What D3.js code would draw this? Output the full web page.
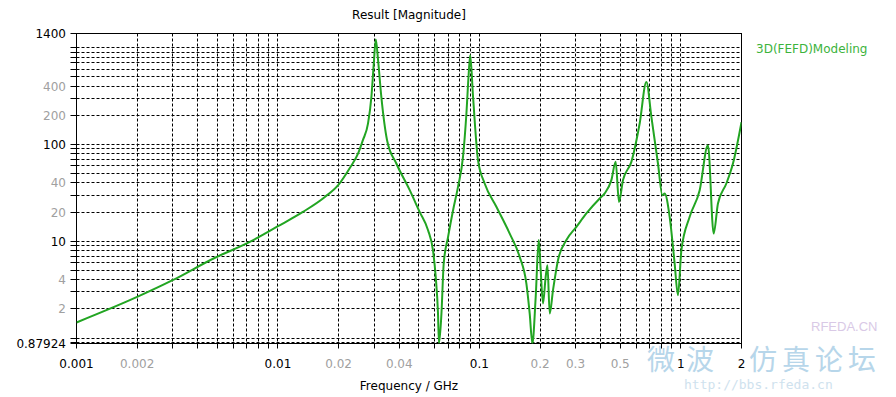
<!DOCTYPE html>
<html lang="en">
<head>
    <meta charset="utf-8">
    <title>Result [Magnitude]</title>
    <style>
        body {
            margin: 0;
            background: #fff;
            font-family: "DejaVu Sans", Tahoma, sans-serif;
        }
        svg text {
            font-size: 12px;
        }
    </style>
</head>
<body>
    <div id="chart"></div>

    <script src="https://cdn.jsdelivr.net/npm/d3@7"></script>
    <script>
        // curve (frequency in GHz, magnitude)
        const freq = [0.001, 0.002, 0.003, 0.0049, 0.007, 0.01, 0.0133, 0.0171, 0.0199, 0.0227,
            0.025, 0.0264, 0.028, 0.0291, 0.0299, 0.0306, 0.0314, 0.0326, 0.0348, 0.0387,
            0.0451, 0.0505, 0.0556, 0.0588, 0.0607, 0.0623, 0.063, 0.0648, 0.0665, 0.0699,
            0.074, 0.0783, 0.0829, 0.0862, 0.0885, 0.09, 0.093, 0.0984, 0.1062, 0.1214,
            0.1414, 0.1585, 0.1711, 0.1777, 0.1832, 0.1903, 0.197, 0.2015, 0.2068, 0.2133,
            0.2176, 0.2234, 0.2319, 0.2455, 0.2703, 0.303, 0.3396, 0.3954, 0.4187, 0.4519,
            0.4747, 0.493, 0.5161, 0.568, 0.6245, 0.6742, 0.714, 0.7698, 0.8094, 0.831,
            0.8799, 0.9315, 0.9674, 1.006, 1.106, 1.24, 1.363, 1.455, 1.528, 1.682,
            1.814, 2.0];
        const magnitude = [1.45, 2.66, 3.96, 6.8, 9.49, 14.3, 20.1, 28.7, 38, 56.9,
            80.7, 110.7, 164.8, 310, 686, 1215, 743, 310, 110.7, 63.6,
            33.7, 20.1, 13, 8.09, 4.29, 1.79, 0.87924, 1.79, 5.89, 11.1,
            20.9, 36.5, 74.4, 209, 541, 836, 310, 68.8, 39.5, 22.7,
            12, 6.9, 3.66, 1.79, 0.87924, 2.66, 10.3, 5.03, 2.28, 4.29,
            5.66, 1.79, 3.12, 6.38, 10.3, 14.1, 19.4, 27.7, 31.2, 42.8,
            66.1, 25.5, 42.8, 66.1, 164.8, 443, 193, 63.6, 29.9, 31.2,
            17.9, 5.89, 2.77, 8.09, 17.9, 33.7, 98.3, 12, 24.6, 39.5,
            63.6, 170];

        // axis labels; the "major" ones are drawn black, the rest grey
        const xTicks = [0.001, 0.002, 0.01, 0.02, 0.04, 0.1, 0.2, 0.3, 0.5, 1, 2];
        const xMajor = [0.001, 0.01, 0.1, 1, 2];
        const yTicks = [0.87924, 2, 4, 10, 20, 40, 100, 200, 400, 1400];
        const yMajor = [0.87924, 10, 100, 1400];

        const xDomain = [0.001, 2];
        const yDomain = [0.87924, 1400];

        const seriesName = "3D(FEFD)Modeling";
        const watermarkChars = ["微", "波", "仿", "真", "论", "坛"];

        const width = 896, height = 397;
        const plot = { left: 76.5, right: 741.5, top: 33.5, bottom: 343.5 };

        const svg = d3.select("#chart")
            .append("svg")
            .attr("width", width)
            .attr("height", height);

        const x = d3.scaleLog().domain(xDomain).range([plot.left, plot.right]);
        const y = d3.scaleLog().domain(yDomain).range([plot.bottom, plot.top]);

        // every 1..9 x 10^n inside the domain gets a dashed grid line
        function gridValues(domain) {
            const vals = [];
            for (let e = -4; e <= 4; e++) {
                for (let m = 1; m <= 9; m++) {
                    const v = +(m * Math.pow(10, e)).toPrecision(6);
                    if (v > domain[0] && v < domain[1]) vals.push(v);
                }
            }
            return vals;
        }
        const xGrid = gridValues(xDomain);
        const yGrid = gridValues(yDomain);
        const px = v => Math.round(x(v) - 0.5) + 0.5;
        const py = v => Math.round(y(v) - 0.5) + 0.5;

        // watermark (faint, behind the plot)
        const wm = svg.append("g").attr("class", "watermark");
        wm.selectAll(".wmchar")
            .data(watermarkChars)
            .join("text")
            .attr("class", "wmchar")
            .attr("x", (d, i) => i < 2 ? 647 + i * 39 : 749 + (i - 2) * 33)
            .attr("y", 370)
            .attr("fill", "#b7d6ea")
            .style("font-family", "'Noto Sans CJK SC', sans-serif")
            .style("font-size", "28px")
            .text(d => d);
        wm.append("text")
            .attr("x", 684).attr("y", 389)
            .attr("fill", "#cfe2ee")
            .style("font-family", "'DejaVu Sans Mono', monospace")
            .style("font-size", "13px")
            .text("http://bbs.rfeda.cn");
        wm.append("text")
            .attr("x", 811).attr("y", 331)
            .attr("fill", "#d9c9e6")
            .style("font-family", "'Liberation Sans', sans-serif")
            .style("font-size", "13px")
            .text("RFEDA.CN");

        // grid
        const grid = svg.append("g")
            .attr("stroke", "#000")
            .attr("stroke-width", 1)
            .attr("stroke-dasharray", "3,2");
        grid.selectAll(".vgrid")
            .data(xGrid)
            .join("line")
            .attr("class", "vgrid")
            .attr("x1", d => px(d)).attr("x2", d => px(d))
            .attr("y1", plot.top).attr("y2", plot.bottom);
        grid.selectAll(".hgrid")
            .data(yGrid)
            .join("line")
            .attr("class", "hgrid")
            .attr("x1", plot.left).attr("x2", plot.right)
            .attr("y1", d => py(d)).attr("y2", d => py(d));

        // small ticks outside the frame
        const ticks = svg.append("g").attr("stroke", "#000").attr("stroke-width", 1);
        ticks.selectAll(".xt")
            .data(xGrid.concat(xDomain))
            .join("line")
            .attr("x1", d => px(d)).attr("x2", d => px(d))
            .attr("y1", plot.bottom).attr("y2", plot.bottom + 5);
        ticks.selectAll(".yt")
            .data(yGrid.concat(yDomain))
            .join("line")
            .attr("x1", plot.left - 6).attr("x2", plot.left)
            .attr("y1", d => py(d)).attr("y2", d => py(d));

        // frame
        svg.append("rect")
            .attr("x", plot.left).attr("y", plot.top)
            .attr("width", plot.right - plot.left)
            .attr("height", plot.bottom - plot.top)
            .attr("fill", "none")
            .attr("stroke", "#000");

        // curve, clipped to the plot area
        svg.append("clipPath").attr("id", "clip")
            .append("rect")
            .attr("x", plot.left).attr("y", plot.top)
            .attr("width", plot.right - plot.left)
            .attr("height", plot.bottom - plot.top);

        const points = freq.map((f, i) => [f, magnitude[i]]);
        const line = d3.line()
            .x(d => x(d[0]))
            .y(d => y(d[1]))
            .curve(d3.curveMonotoneX);

        svg.append("path")
            .datum(points)
            .attr("clip-path", "url(#clip)")
            .attr("fill", "none")
            .attr("stroke", "#22a522")
            .attr("stroke-width", 2)
            .attr("stroke-linejoin", "round")
            .attr("d", line);

        // tick labels
        const fmt = v => String(v);
        svg.append("g").selectAll("text")
            .data(xTicks)
            .join("text")
            .attr("x", d => x(d))
            .attr("y", 368)
            .attr("text-anchor", "middle")
            .attr("fill", d => xMajor.includes(d) ? "#000" : "#a0a0a0")
            .text(fmt);
        svg.append("g").selectAll("text")
            .data(yTicks)
            .join("text")
            .attr("x", 66)
            .attr("y", d => y(d) + 4.5)
            .attr("text-anchor", "end")
            .attr("fill", d => yMajor.includes(d) ? "#000" : "#a0a0a0")
            .text(fmt);

        // titles
        svg.append("text")
            .attr("x", (plot.left + plot.right) / 2)
            .attr("y", 19)
            .attr("text-anchor", "middle")
            .attr("fill", "#000")
            .text("Result [Magnitude]");
        svg.append("text")
            .attr("x", (plot.left + plot.right) / 2)
            .attr("y", 390)
            .attr("text-anchor", "middle")
            .attr("fill", "#000")
            .text("Frequency / GHz");

        // legend
        svg.append("text")
            .attr("x", 756)
            .attr("y", 53)
            .attr("fill", "#3cb33c")
            .text(seriesName);
    </script>
</body>
</html>
